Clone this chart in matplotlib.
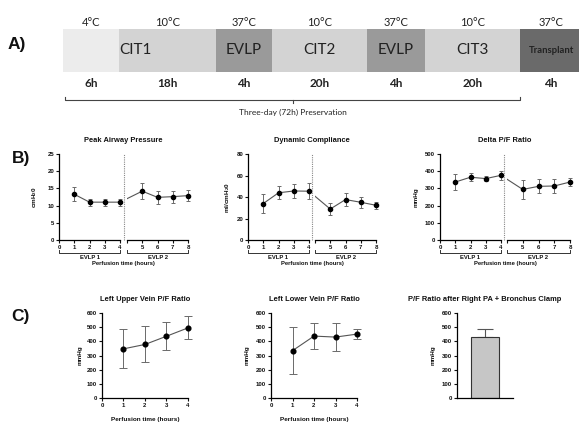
import numpy as np
import matplotlib
matplotlib.use("Agg")
import matplotlib.pyplot as plt
from matplotlib.lines import Line2D
import matplotlib.transforms as mtrans

# ---------------- data ----------------
seg_temps = ['4°C', '10°C', '37°C', '10°C', '37°C', '10°C', '37°C']
seg_hours = ['6h', '18h', '4h', '20h', '4h', '20h', '4h']
seg_names = ['', 'CIT1', 'EVLP', 'CIT2', 'EVLP', 'CIT3', 'Transplant']
seg_widths = [1.0, 1.73, 1.0, 1.7, 1.02, 1.71, 1.1]
seg_colors = ['#ececec', '#d3d3d3', '#9a9a9a', '#d3d3d3', '#9a9a9a', '#d3d3d3', '#6a6a6a']
preservation_label = 'Three-day (72h) Preservation'

hours_b = [1, 2, 3, 4, 5, 6, 7, 8]
paw_mean = [13.3, 11.0, 11.0, 11.0, 14.2, 12.4, 12.6, 12.9]
paw_err = [2.1, 1.0, 1.0, 1.0, 2.4, 1.9, 1.7, 1.5]
dc_mean = [33.9, 43.9, 45.6, 45.4, 28.8, 37.6, 35.1, 32.3]
dc_err = [8.7, 6.2, 6.3, 7.3, 6.0, 6.1, 5.3, 3.4]
pf_mean = [337, 365, 357, 376, 294, 312, 314, 337]
pf_err = [49, 22, 14, 27, 55, 41, 40, 25]

hours_c = [1, 2, 3, 4]
luv_mean = [347, 378, 436, 495]
luv_err = [137, 127, 97, 82]
llv_mean = [334, 437, 430, 451]
llv_err = [165, 93, 99, 34]
clamp_mean = [428]
clamp_err = [56]

# ---------------- style ----------------
plt.rcParams['font.family'] = ['Liberation Sans', 'DejaVu Sans']
plt.rcParams['font.weight'] = 'bold'
plt.rcParams['mathtext.fontset'] = 'custom'
plt.rcParams['mathtext.rm'] = 'Liberation Sans:bold'
plt.rcParams['mathtext.default'] = 'regular'

W, H = 579, 423
fig = plt.figure(figsize=(W / 100, H / 100), dpi=100)


def add_px(x0, y0, x1, y1):
    return fig.add_axes([x0 / W, 1 - y1 / H, (x1 - x0) / W, (y1 - y0) / H])


def fig_text(x, y, s, **kw):
    fig.text(x / W, 1 - y / H, s, **kw)


TXT = '#222222'
afont = ['Lato', 'DejaVu Sans']

# ---------------- panel A ----------------
axA = add_px(63, 29, 63 + 56.05 * sum(seg_widths), 72)
lefts = np.concatenate([[0], np.cumsum(seg_widths)[:-1]])
axA.barh(0.5, seg_widths, left=lefts, height=1.0, color=seg_colors, edgecolor='none')
axA.set_xlim(0, sum(seg_widths))
axA.set_ylim(0, 1)
axA.axis('off')
tr = mtrans.blended_transform_factory(axA.transData, axA.transAxes)
centers = lefts + np.array(seg_widths) / 2
for i, c in enumerate(centers):
    axA.text(c, 1.14, seg_temps[i], transform=tr, ha='center', va='center',
             fontsize=8, family=afont, weight='normal', color=TXT, clip_on=False)
    axA.text(c, -0.26, seg_hours[i], transform=tr, ha='center', va='center',
             fontsize=8.5, family=afont, weight='bold', color=TXT, clip_on=False)
    name = seg_names[i]
    if not name:
        continue
    if name == 'CIT1':
        axA.text(lefts[i], 0.5, name, transform=tr, ha='left', va='center',
                 fontsize=11, family=afont, weight='normal', color=TXT)
    elif name == 'Transplant':
        axA.text(c, 0.5, name, transform=tr, ha='center', va='center',
                 fontsize=6.8, family=afont, weight='bold', color=TXT)
    else:
        axA.text(c, 0.5, name, transform=tr, ha='center', va='center',
                 fontsize=11, family=afont, weight='normal', color=TXT)

b0, b1 = 0.04, float(np.sum(seg_widths[:6]))
axA.plot([b0, b0, b1, b1], [-0.58, -0.65, -0.65, -0.58], transform=tr,
         color='#444444', lw=0.8, clip_on=False)
bm = (b0 + b1) / 2
axA.plot([bm, bm], [-0.65, -0.71], transform=tr, color='#444444', lw=0.8, clip_on=False)
axA.text(bm, -0.93, preservation_label, transform=tr, ha='center', va='center',
         fontsize=6, family=afont, weight='normal', color=TXT, clip_on=False)

fig_text(8, 45, 'A)', fontsize=12.5, weight='bold', va='center', ha='left', color='#111111')
fig_text(12, 159, 'B)', fontsize=12.5, weight='bold', va='center', ha='left', color='#111111')
fig_text(11, 316, 'C)', fontsize=12.5, weight='bold', va='center', ha='left', color='#111111')

# ---------------- helpers ----------------
LINE_C = '#555555'
ERR_C = '#6a6a6a'
TICK_FS = 4.3


def style_axis(ax, left=True):
    for s in ['top', 'right']:
        ax.spines[s].set_visible(False)
    ax.spines['left'].set_visible(left)
    ax.spines['bottom'].set_linewidth(0.9)
    ax.spines['left'].set_linewidth(0.9)
    ax.tick_params(axis='both', direction='out', length=2.5, width=0.8,
                   labelsize=TICK_FS, pad=1, colors='#111111')
    if not left:
        ax.tick_params(axis='y', left=False, labelleft=False)
    ax.set_facecolor('none')


def draw_series(ax, x, y, e, ms=3.0, cap=1.6):
    ax.plot(x, y, '-', color=LINE_C, lw=0.8, clip_on=False, zorder=3)
    ax.plot(x, y, 'o', color='black', ms=ms, clip_on=False, zorder=4)
    eb = ax.errorbar(x, y, yerr=e, fmt='none', ecolor=ERR_C, elinewidth=0.7,
                     capsize=cap, capthick=0.7, zorder=2)
    for art in eb.get_children():
        art.set_clip_on(False)


def broken_panel(x0, x1a, x2b, x1, ytop, ybot, mean, err, ymax, ystep, title, ylabel, ylab_x):
    ax1 = add_px(x0, ytop, x1a, ybot)
    ax2 = add_px(x2b, ytop, x1, ybot)
    for ax in (ax1, ax2):
        ax.set_ylim(0, ymax)
    ax1.set_xlim(0, 4)
    ax2.set_xlim(4, 8)
    style_axis(ax1, left=True)
    style_axis(ax2, left=False)
    ax1.set_yticks(np.arange(0, ymax + 0.1, ystep))
    ax1.set_xticks([0, 1, 2, 3, 4])
    ax2.set_xticks([4, 5, 6, 7, 8])
    ax2.set_xticklabels(['', '5', '6', '7', '8'])
    for ax in (ax1, ax2):
        for lbl in ax.get_xticklabels() + ax.get_yticklabels():
            lbl.set_fontweight('bold')
    draw_series(ax1, hours_b[:4], mean[:4], err[:4])
    draw_series(ax2, hours_b[4:], mean[4:], err[4:])
    # connector from last point of segment 1 drawn in display space (clipped to segment 2)
    fig.canvas.draw()
    disp = ax1.transData.transform((hours_b[3], mean[3]))
    xc = ax2.transData.inverted().transform(disp)[0]
    ax2.plot([xc, hours_b[4]], [mean[3], mean[4]], '-', color=LINE_C, lw=0.8, zorder=3)
    # dotted divider
    p1 = ax1.get_position()
    p2 = ax2.get_position()
    xm = (p1.x1 + p2.x0) / 2
    fig.add_artist(Line2D([xm, xm], [p1.y0, p1.y1], transform=fig.transFigure,
                          color='#888888', lw=0.8, ls=(0, (1, 1))))
    # brackets
    for ax, lo, hi, lab in ((ax1, 0, 4, 'EVLP 1'), (ax2, 4, 8, 'EVLP 2')):
        t = mtrans.blended_transform_factory(ax.transData, ax.transAxes)
        ax.plot([lo, lo, hi, hi], [-0.115, -0.15, -0.15, -0.115], transform=t,
                color='#333333', lw=0.7, clip_on=False)
        ax.text((lo + hi) / 2, -0.205, lab, transform=t, ha='center', va='center',
                fontsize=4.2, weight='bold', color='#111111', clip_on=False)
    fig_text((x0 + x1) / 2, 264, 'Perfusion time (hours)', ha='center', va='center',
             fontsize=4.2, weight='bold', color='#111111')
    fig_text((x0 + x1) / 2, 141, title, ha='center', va='center',
             fontsize=5.4, weight='bold', color='#111111')
    ax1.set_ylabel(ylabel, fontsize=4.6, weight='bold', color='#111111')
    ax1.yaxis.set_label_coords(ylab_x, 0.5)
    return ax1, ax2


broken_panel(59, 120, 127, 188, 154, 240, paw_mean, paw_err, 25, 5,
             'Peak Airway Pressure', 'cmH$_2$0', -0.33)
broken_panel(248, 309, 315, 376, 154, 240, dc_mean, dc_err, 80, 20,
             'Dynamic Compliance', 'ml/cmH$_2$0', -0.27)
broken_panel(440, 501, 507, 570, 154, 240, pf_mean, pf_err, 500, 100,
             'Delta P/F Ratio', 'mmHg', -0.35)


# ---------------- panel C ----------------
def lobe_panel(x0, x1, mean, err, title, ylab_x):
    ax = add_px(x0, 313, x1, 398)
    ax.set_xlim(0, 4)
    ax.set_ylim(0, 600)
    style_axis(ax)
    ax.set_xticks([0, 1, 2, 3, 4])
    ax.set_yticks(np.arange(0, 601, 100))
    for lbl in ax.get_xticklabels() + ax.get_yticklabels():
        lbl.set_fontweight('bold')
    draw_series(ax, hours_c, mean, err, ms=3.4, cap=2.8)
    ax.set_ylabel('mmHg', fontsize=4.6, weight='bold', color='#111111')
    ax.yaxis.set_label_coords(ylab_x, 0.5)
    fig_text((x0 + x1) / 2, 299, title, ha='center', va='center',
             fontsize=5.4, weight='bold', color='#111111')
    fig_text((x0 + x1) / 2, 422.0, 'Perfusion time (hours)', ha='center', va='bottom',
             fontsize=4.6, weight='bold', color='#111111')


lobe_panel(102, 188, luv_mean, luv_err, 'Left Upper Vein P/F Ratio', -0.23)
lobe_panel(271, 357, llv_mean, llv_err, 'Left Lower Vein P/F Ratio', -0.245)

axb = add_px(457, 313, 513, 398)
axb.set_xlim(-0.5, 0.5)
axb.set_ylim(0, 600)
style_axis(axb)
axb.set_xticks([])
axb.set_yticks(np.arange(0, 601, 100))
for lbl in axb.get_yticklabels():
    lbl.set_fontweight('bold')
axb.bar([0], clamp_mean, width=0.5, color='#c6c6c6', edgecolor='#333333', lw=0.8, zorder=2)
eb = axb.errorbar([0], clamp_mean, yerr=[[0], clamp_err], fmt='none', ecolor='#555555',
                  elinewidth=0.8, capsize=5.5, capthick=0.8, zorder=1)
axb.set_ylabel('mmHg', fontsize=4.6, weight='bold', color='#111111')
axb.yaxis.set_label_coords(-0.39, 0.5)
fig_text(485, 299, 'P/F Ratio after Right PA + Bronchus Clamp', ha='center', va='center',
         fontsize=5.4, weight='bold', color='#111111')

fig.savefig('out.png', dpi=100)
